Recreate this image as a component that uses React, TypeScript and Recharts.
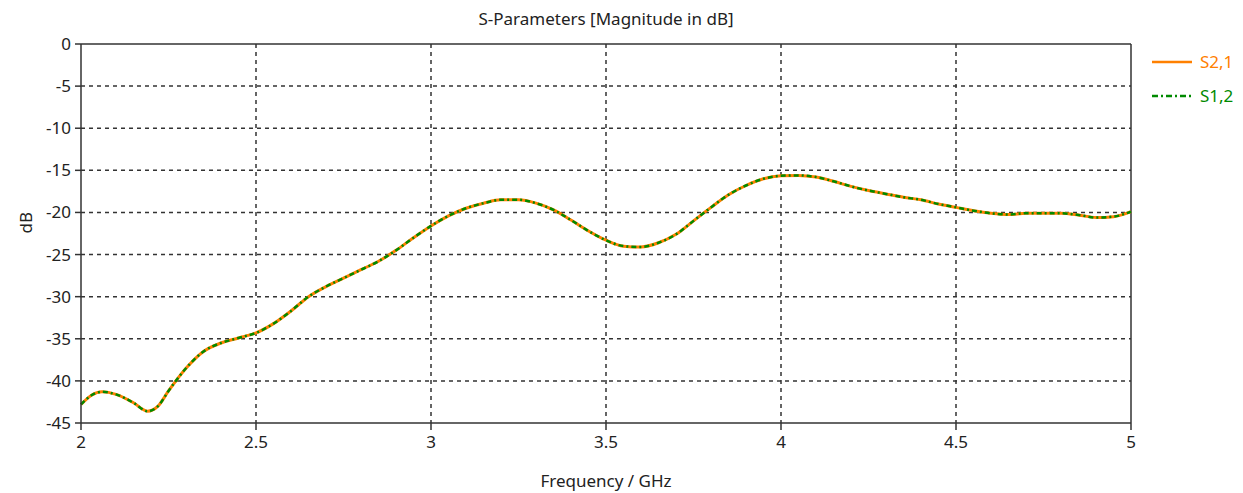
import React from "react";
import {
  LineChart,
  Line,
  XAxis,
  YAxis,
  CartesianGrid,
  ReferenceLine,
} from "recharts";

const freqs = [
  2.0, 2.03, 2.06, 2.1, 2.15, 2.19, 2.22, 2.25, 2.3, 2.35, 2.4, 2.45, 2.5, 2.55,
  2.6, 2.65, 2.7, 2.75, 2.8, 2.85, 2.9, 2.95, 3.0, 3.05, 3.1, 3.15, 3.2, 3.25,
  3.3, 3.35, 3.4, 3.45, 3.5, 3.55, 3.6, 3.65, 3.7, 3.75, 3.8, 3.85, 3.9, 3.95,
  4.0, 4.05, 4.1, 4.15, 4.2, 4.25, 4.3, 4.35, 4.4, 4.45, 4.5, 4.55, 4.6, 4.65,
  4.7, 4.75, 4.8, 4.85, 4.9, 4.95, 5.0,
];

const s21 = [
  -42.8, -41.7, -41.3, -41.6, -42.6, -43.6, -43.0, -41.2, -38.5, -36.5, -35.5,
  -34.9, -34.3, -33.2, -31.7, -30.0, -28.8, -27.8, -26.8, -25.8, -24.5, -23.0,
  -21.6, -20.4, -19.5, -18.9, -18.5, -18.5, -18.9, -19.7, -20.9, -22.2, -23.3,
  -24.0, -24.1, -23.6, -22.6, -21.0, -19.4, -17.9, -16.8, -16.0, -15.65, -15.6,
  -15.8, -16.3, -16.9, -17.4, -17.8, -18.2, -18.5, -19.0, -19.4, -19.8, -20.1,
  -20.25, -20.1, -20.1, -20.1, -20.3, -20.6, -20.5, -19.9,
];

const s12 = s21.slice();

const xTicks = [2, 2.5, 3, 3.5, 4, 4.5, 5];
const yTicks = [0, -5, -10, -15, -20, -25, -30, -35, -40, -45];

const data = freqs.map((f, i) => ({ f, s21: s21[i], s12: s12[i] }));

const FONT = "'Noto Sans', 'Open Sans', sans-serif";
const ORANGE = "#ff8000";
const GREEN = "#008a00";
const GRID = "#333333";

export default function App() {
  return (
    <div
      style={{
        position: "absolute",
        left: 0,
        top: 0,
        width: 1243,
        height: 493,
        background: "#fff",
        fontFamily: FONT,
      }}
    >
      <div
        style={{
          position: "absolute",
          top: 7,
          left: 0,
          width: 1212,
          textAlign: "center",
          fontSize: 17,
          color: "#222",
          fontFamily: FONT,
        }}
      >
        S-Parameters [Magnitude in dB]
      </div>
      <svg
        width={95}
        height={70}
        style={{ position: "absolute", left: 1148, top: 48 }}
      >
        <line x1={4} y1={14} x2={44} y2={14} stroke={ORANGE} strokeWidth={2.5} />
        <text x={52} y={20} fill={ORANGE} fontSize={17} fontFamily={FONT}>
          S2,1
        </text>
        <line
          x1={4}
          y1={48}
          x2={44}
          y2={48}
          stroke={GREEN}
          strokeWidth={2.5}
          strokeDasharray="6 3 2 3"
        />
        <text x={52} y={54} fill={GREEN} fontSize={17} fontFamily={FONT}>
          S1,2
        </text>
      </svg>
      <LineChart
        width={1243}
        height={493}
        data={data}
        margin={{ top: 44, right: 112, bottom: 40, left: 0 }}
      >
        <CartesianGrid
          stroke={GRID}
          strokeWidth={1.5}
          strokeDasharray="4 4"
          horizontalValues={[-5, -10, -15, -20, -25, -30, -35, -40]}
          verticalValues={[2.5, 3, 3.5, 4, 4.5]}
        />
        <ReferenceLine y={0} stroke={GRID} strokeWidth={1.5} />
        <ReferenceLine x={5} stroke={GRID} strokeWidth={1.5} />
        <XAxis
          dataKey="f"
          type="number"
          domain={[2, 5]}
          ticks={xTicks}
          height={30}
          stroke={GRID}
          strokeWidth={1.5}
          tickSize={7}
          tick={{ fill: "#222", fontSize: 17, fontFamily: FONT }}
          tickMargin={6}
          label={{
            value: "Frequency / GHz",
            position: "insideBottom",
            offset: -34,
            fill: "#222",
            fontSize: 17,
            fontFamily: FONT,
          }}
        />
        <YAxis
          type="number"
          domain={[-45, 0]}
          ticks={yTicks}
          width={81}
          stroke={GRID}
          strokeWidth={1.5}
          tickSize={6}
          tickMargin={4}
          tick={{ fill: "#222", fontSize: 17, fontFamily: FONT }}
          label={{
            value: "dB",
            angle: -90,
            position: "insideLeft",
            offset: 26,
            fill: "#222",
            fontSize: 17,
            fontFamily: FONT,
          }}
        />
        <Line
          type="monotone"
          dataKey="s21"
          name="S2,1"
          stroke={ORANGE}
          strokeWidth={3}
          dot={false}
          isAnimationActive={false}
        />
        <Line
          type="monotone"
          dataKey="s12"
          name="S1,2"
          stroke={GREEN}
          strokeWidth={2.5}
          strokeDasharray="5 3 2 3"
          dot={false}
          isAnimationActive={false}
        />
      </LineChart>
    </div>
  );
}
